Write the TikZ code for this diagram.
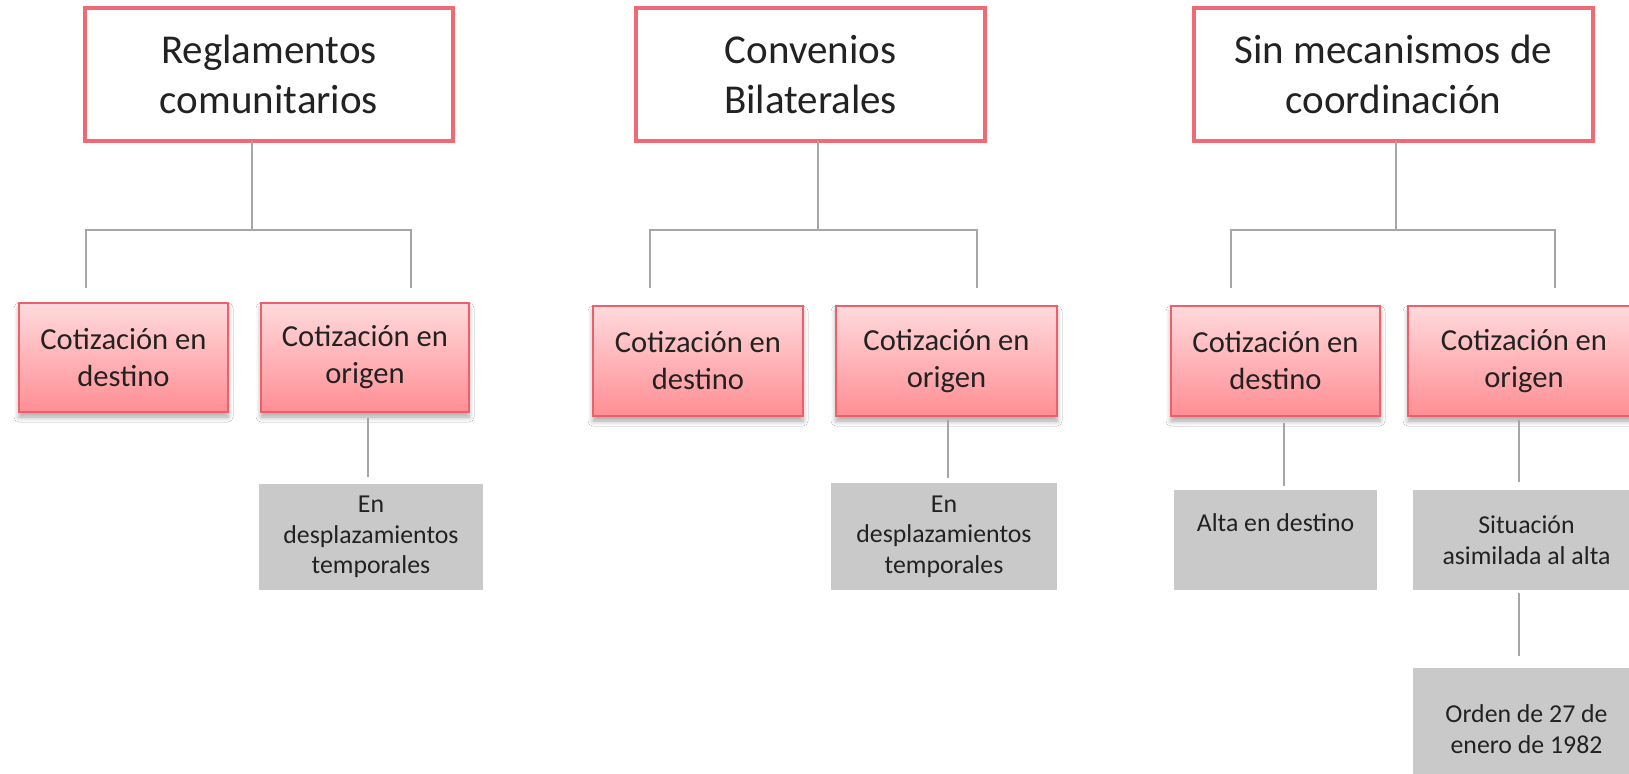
\documentclass[tikz,border=0pt]{standalone}
\usepackage{fontspec}
\setmainfont{Carlito}
\usetikzlibrary{shadows,shadows.blur}
\definecolor{linegray}{HTML}{A6A6A6}
\definecolor{topred}{HTML}{F06A75}
\definecolor{pinktop}{HTML}{FFDADC}
\definecolor{pinkbot}{HTML}{FF8E94}
\definecolor{pinkborder}{HTML}{EE5F6A}
\definecolor{graybox}{HTML}{C9C9C9}
\definecolor{textc}{HTML}{222222}
\newcommand\mybox[7]{\node[#2, minimum width={(#5-#3)*0.5pt}, minimum height={(#6-#4)*0.5pt}] (#1) at ({(#3+#5)/2},{(#4+#6)/2}) {#7};}
\begin{document}
\begin{tikzpicture}[x=0.5pt,y=-0.5pt,
  every node/.style={inner sep=0pt, outer sep=0pt, align=center, text=textc},
  topbox/.style={draw=topred, line width=1.7pt, fill=white, font=\fontsize{20.5}{25}\selectfont},
  pinkbox/.style={draw=pinkborder, line width=0.7pt, top color=pinktop, bottom color=pinkbot,
    blur shadow={shadow xshift=0pt, shadow yshift=-2.5pt, shadow opacity=35, shadow blur steps=6, shadow blur radius=2.5pt}, font=\fontsize{15.3}{18.5}\selectfont},
  graybx/.style={fill=graybox, font=\fontsize{12.9}{15.3}\selectfont},
  conn/.style={draw=linegray, line width=0.75pt}]
\useasboundingbox (0,0) rectangle (1629,774);
\fill[white] (0,0) rectangle (1629,774);

% top boxes
\mybox{t1}{topbox}{85}{8}{453}{141}{Reglamentos\\comunitarios}
\mybox{t2}{topbox}{636}{8}{985}{141}{Convenios\\Bilaterales}
\mybox{t3}{topbox}{1194}{8}{1593}{141}{Sin mecanismos de\\coordinación}

% second row
\mybox{a1}{pinkbox}{19}{303}{228}{412}{Cotización en\\destino}
\mybox{a2}{pinkbox}{261}{303}{469}{412}{Cotización en\\origen}
\mybox{b1}{pinkbox}{593}{306}{803}{416}{Cotización en\\destino}
\mybox{b2}{pinkbox}{836}{306}{1057}{416}{Cotización en\\origen}
\mybox{c1}{pinkbox}{1171}{306}{1380}{416}{Cotización en\\destino}
\mybox{c2}{pinkbox}{1408}{306}{1640}{416}{Cotización en\\origen}

% gray boxes
\mybox{ga}{graybx}{259}{484}{483}{590}{En\\desplazamientos\\temporales}
\mybox{gb}{graybx}{831}{483}{1057}{590}{En\\desplazamientos\\temporales}
\mybox{gc1}{graybx}{1174}{490}{1377}{590}{Alta en destino\\\phantom{Ay}}
\mybox{gc2}{graybx}{1413}{490}{1640}{590}{Situación\\asimilada al alta}
\mybox{gc3}{graybx}{1413}{668}{1640}{790}{Orden de 27 de\\enero de 1982}

% bus coordinates
\coordinate (s1) at (252,230); \coordinate (l1) at (86,288); \coordinate (r1) at (411,288);
\coordinate (s2) at (818,230); \coordinate (l2) at (650,288); \coordinate (r2) at (977,288);
\coordinate (s3) at (1396,230); \coordinate (l3) at (1231,288); \coordinate (r3) at (1555,288);

\draw[conn] (t1.south -| s1) -- (s1);
\draw[conn] (l1) |- (s1) -| (r1);
\draw[conn] (t2.south -| s2) -- (s2);
\draw[conn] (l2) |- (s2) -| (r2);
\draw[conn] (t3.south -| s3) -- (s3);
\draw[conn] (l3) |- (s3) -| (r3);

% vertical connectors
\coordinate (xa) at (368,0); \coordinate (xb) at (948,0);
\coordinate (xc1) at (1284,0); \coordinate (xc2) at (1519,0);
\draw[conn, shorten <=3pt, shorten >=3.5pt] (a2.south -| xa) -- (ga.north -| xa);
\draw[conn, shorten <=2pt, shorten >=2.5pt] (b2.south -| xb) -- (gb.north -| xb);
\draw[conn, shorten <=3.5pt, shorten >=2pt] (c1.south -| xc1) -- (gc1.north -| xc1);
\draw[conn, shorten <=2pt, shorten >=4pt] (c2.south -| xc2) -- (gc2.north -| xc2);
\draw[conn, shorten <=1.5pt, shorten >=6pt] (gc2.south -| xc2) -- (gc3.north -| xc2);
\end{tikzpicture}
\end{document}
